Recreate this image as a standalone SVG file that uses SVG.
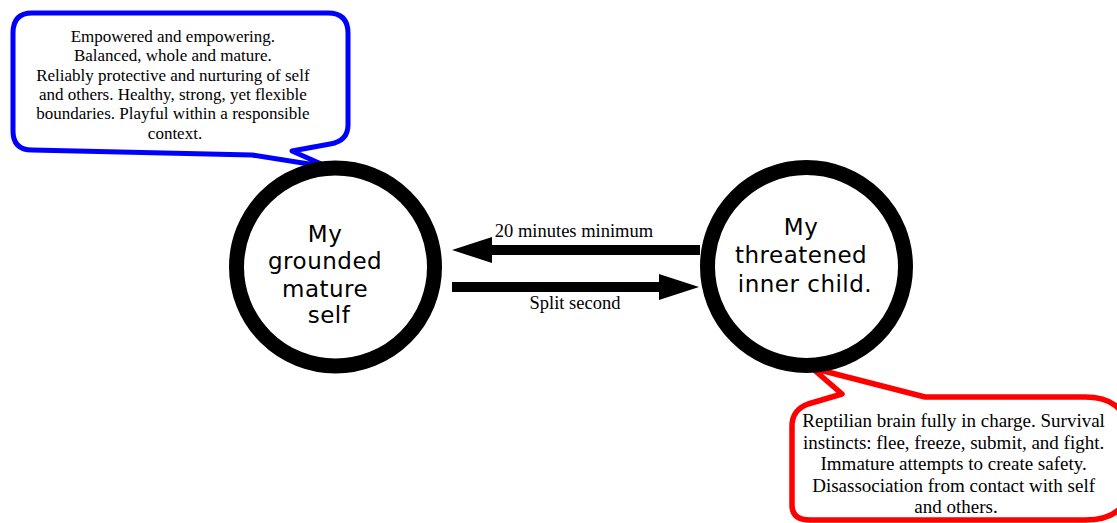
<svg xmlns="http://www.w3.org/2000/svg" width="1117" height="523" viewBox="0 0 1117 523">
  <style>
    .bg { fill: #ffffff; }
    .bubble { fill: #ffffff; stroke-width: 5; stroke-linejoin: round; }
    .blue { stroke: #0000ff; }
    .red { stroke: #ff0000; stroke-width: 5.5; }
    .note { font-family: "Liberation Serif", "Times New Roman", serif; fill: #000000; text-anchor: middle; }
    .ring { fill: #ffffff; stroke: #000000; stroke-width: 15; }
    .state { font-family: "DejaVu Sans", Verdana, sans-serif; font-size: 23px; letter-spacing: 0.5px; fill: #000000; text-anchor: middle; }
    .shaft { stroke: #000000; stroke-width: 10; fill: none; }
    .edge-label { font-family: "Liberation Serif", "Times New Roman", serif; font-size: 18.5px; fill: #000000; text-anchor: middle; }
  </style>
  <defs>
    <marker id="head" markerUnits="userSpaceOnUse" markerWidth="40" markerHeight="26" refX="0" refY="13" orient="auto">
      <path d="M0,0 L40,13 L0,26 Z" fill="#000000"/>
    </marker>
  </defs>

  <rect class="bg" x="0" y="0" width="1117" height="523"/>

  <!-- speech bubble describing the grounded self -->
  <g id="note-grounded">
    <path class="bubble blue" d="M32,13 L328,13 Q348,13 348,33 L348,125 Q348,141 330,144 L292,151 L328,167 L252,155 L32,150 Q13,150 13,131 L13,33 Q13,13 32,13 Z"/>
    <text class="note" font-size="17" x="175">
      <tspan x="175" y="42">Empowered and empowering.</tspan>
      <tspan x="175" y="61">Balanced, whole and mature.</tspan>
      <tspan x="175" y="80.5">Reliably protective and nurturing of self</tspan>
      <tspan x="175" y="100">and others. Healthy, strong, yet flexible</tspan>
      <tspan x="175" y="119">boundaries. Playful within a responsible</tspan>
      <tspan x="175" y="138.5">context.</tspan>
    </text>
  </g>

  <!-- speech bubble describing the threatened child -->
  <g id="note-threatened">
    <path class="bubble red" d="M812,368 L842,394 L808,404 Q792,410 792,426 L792,505 Q792,520 810,520 L1085,520 Q1120,520 1128,495 L1128,425 Q1120,397 1085,397 L925,397 Z"/>
    <text class="note" font-size="19" x="956">
      <tspan x="956" y="427">Reptilian brain fully in charge. Survival</tspan>
      <tspan x="956" y="448.5">instincts: flee, freeze, submit, and fight.</tspan>
      <tspan x="956" y="470">Immature attempts to create safety.</tspan>
      <tspan x="956" y="491.5">Disassociation from contact with self</tspan>
      <tspan x="956" y="513">and others.</tspan>
    </text>
  </g>

  <g id="node-grounded">
    <circle class="ring" cx="335.5" cy="267" r="99"/>
    <text class="state">
      <tspan x="329" y="242">My</tspan>
      <tspan x="329" y="269">grounded</tspan>
      <tspan x="329" y="297">mature</tspan>
      <tspan x="329" y="323">self</tspan>
    </text>
  </g>

  <g id="node-threatened">
    <circle class="ring" cx="806.5" cy="266.5" r="99"/>
    <text class="state">
      <tspan x="805" y="235">My</tspan>
      <tspan x="805" y="263">threatened</tspan>
      <tspan x="805" y="292">inner child.</tspan>
    </text>
  </g>

  <g id="connectors">
    <line class="shaft" x1="700" y1="250" x2="492" y2="250" marker-end="url(#head)"/>
    <text class="edge-label" x="574" y="237">20 minutes minimum</text>
    <line class="shaft" x1="452" y1="287" x2="659" y2="287" marker-end="url(#head)"/>
    <text class="edge-label" x="575" y="309">Split second</text>
  </g>
</svg>
